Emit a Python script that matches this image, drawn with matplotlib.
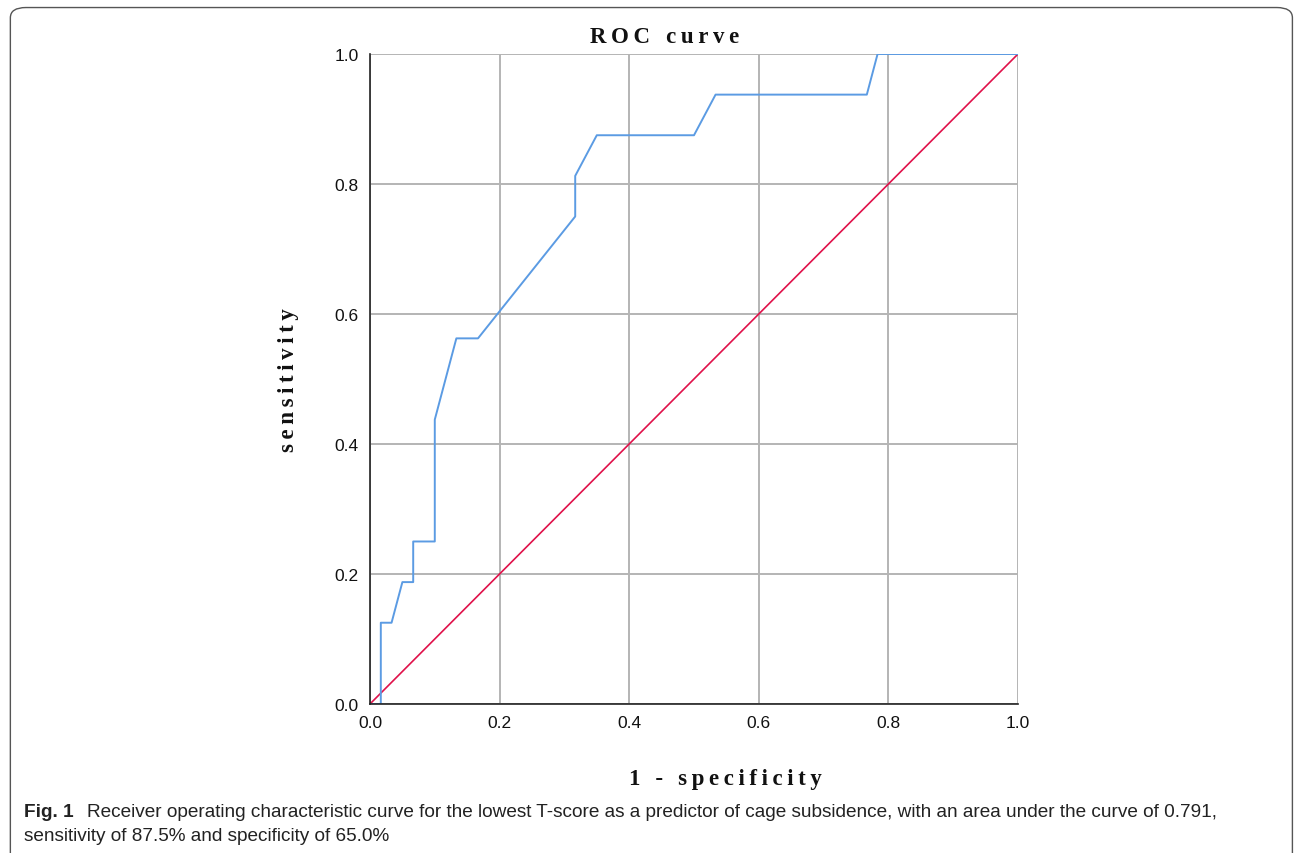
import matplotlib
matplotlib.use("Agg")
import matplotlib.pyplot as plt
from matplotlib.patches import FancyBboxPatch

# ROC curve (1 - specificity, sensitivity)
fpr = [0.0, 0.0167, 0.0167, 0.0333, 0.05, 0.0667, 0.0667, 0.1, 0.1, 0.1333,
       0.1667, 0.3167, 0.3167, 0.35, 0.5, 0.5333, 0.7667, 0.7833, 1.0]
tpr = [0.0, 0.0, 0.125, 0.125, 0.1875, 0.1875, 0.25, 0.25, 0.4375, 0.5625,
       0.5625, 0.75, 0.8125, 0.875, 0.875, 0.9375, 0.9375, 1.0, 1.0]
ref_line = [0.0, 1.0]
ticks = [0.0, 0.2, 0.4, 0.6, 0.8, 1.0]
tick_labels = ["0.0", "0.2", "0.4", "0.6", "0.8", "1.0"]

caption_bold = "Fig. 1"
caption_1 = ("Receiver operating characteristic curve for the lowest T-score as a predictor "
             "of cage subsidence, with an area under the curve of 0.791,")
caption_2 = "sensitivity of 87.5% and specificity of 65.0%"


def spaced(s):
    # wide letter spacing like the original serif labels
    return "\u2009".join(s)


fig = plt.figure(figsize=(12.95, 8.54), dpi=100)
fig.patch.set_facecolor("white")

# rounded frame around the figure
frame = FancyBboxPatch((0.008, -0.05), 0.99, 1.04, boxstyle="round,pad=0,rounding_size=0.012",
                       transform=fig.transFigure, facecolor="none", edgecolor="#555555",
                       linewidth=1.0)
fig.patches.append(frame)

ax = fig.add_axes([0.2857, 0.1745, 0.5004, 0.7611])
ax.plot(ref_line, ref_line, color="#E0114A", linewidth=1.2, zorder=3)
ax.plot(fpr, tpr, color="#5B9BE3", linewidth=1.4, zorder=4)

ax.set_xlim(0, 1)
ax.set_ylim(0, 1)
ax.set_xticks(ticks)
ax.set_yticks(ticks)
ax.set_xticklabels(tick_labels)
ax.set_yticklabels(tick_labels)
ax.tick_params(length=0, labelsize=12.5, pad=8, labelcolor="#111111")
for lab in ax.get_xticklabels() + ax.get_yticklabels():
    lab.set_family("Liberation Sans")
ax.grid(True, color="#B4B4B4", linewidth=1.4)
ax.set_axisbelow(True)
for s in ["top", "right"]:
    ax.spines[s].set_visible(False)
for s in ["left", "bottom"]:
    ax.spines[s].set_color("#222222")
    ax.spines[s].set_linewidth(1.2)
    ax.spines[s].set_zorder(5)

serif = ["Liberation Serif", "DejaVu Serif"]
ax.text(0.455, 1.027, spaced("ROC") + "\u2009  " + spaced("curve"), transform=ax.transAxes,
        ha="center", va="center", fontsize=16.5, fontweight="bold", family=serif, color="#111111")
ax.text(0.549, -0.114, spaced("1 - specificity"), transform=ax.transAxes, ha="center",
        va="center", fontsize=16.5, fontweight="bold", family=serif, color="#111111")
ax.text(-0.1265, 0.5, spaced("sensitivity"), transform=ax.transAxes, ha="center", va="center",
        rotation=90, fontsize=16.5, fontweight="bold", family=serif, color="#111111")

cap_font = ["Liberation Sans"]
fig.text(24 / 1295, 1 - 813 / 854, caption_bold, ha="left", va="center",
         fontsize=13.7, fontweight="bold", family=cap_font, color="#222222")
fig.text(87 / 1295, 1 - 813 / 854, caption_1, ha="left", va="center",
         fontsize=13.7, family=cap_font, color="#222222")
fig.text(24 / 1295, 1 - 837 / 854, caption_2, ha="left", va="center",
         fontsize=13.7, family=cap_font, color="#222222")

fig.savefig("out.png", dpi=100, facecolor="white")
